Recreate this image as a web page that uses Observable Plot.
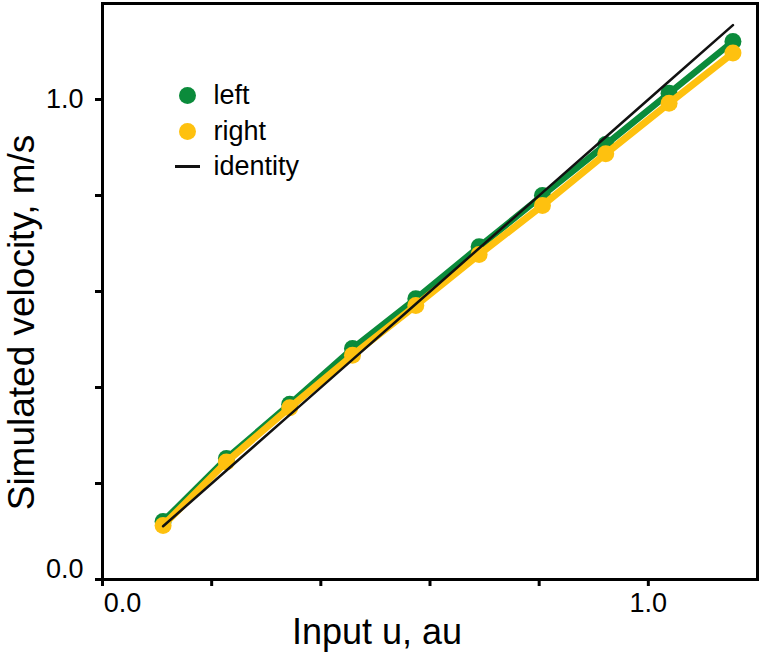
<!DOCTYPE html>
<html>
<head>
<meta charset="utf-8">
<script src="https://cdn.jsdelivr.net/npm/d3@7"></script>
<script src="https://cdn.jsdelivr.net/npm/@observablehq/plot@0.6"></script>
<style>
  html, body { margin: 0; padding: 0; background: #fff; }
</style>
</head>
<body>
<div id="chart"></div>
<script>
// Data
const inputU = [0.111, 0.227, 0.343, 0.458, 0.574, 0.690, 0.806, 0.922, 1.038, 1.155];
const leftVel = [0.121, 0.252, 0.365, 0.481, 0.585, 0.693, 0.800, 0.906, 1.013, 1.121];
const rightVel = [0.1125, 0.245, 0.358, 0.467, 0.571, 0.677, 0.779, 0.887, 0.992, 1.097];
const xTicks = [0, 0.2, 0.4, 0.6, 0.8, 1.0];
const yTicks = [0, 0.2, 0.4, 0.6, 0.8, 1.0];
const legendLabels = ["left", "right", "identity"];
const xTitle = "Input u, au";
const yTitle = "Simulated velocity, m/s";

const GREEN = "#0b8b3b";
const YELLOW = "#fec10f";

const leftData = inputU.map((u, i) => ({u, v: leftVel[i]}));
const rightData = inputU.map((u, i) => ({u, v: rightVel[i]}));
const fmt = d3.format(".1f");

const lineSymbol = {
  draw(ctx, size) {
    const r = Math.sqrt(size / Math.PI);
    ctx.moveTo(-r, 0);
    ctx.lineTo(r, 0);
  }
};

const legendText = (label, dy) => Plot.text([label], {
  frameAnchor: "top-left", text: d => d, dx: 111, dy,
  textAnchor: "start", lineAnchor: "middle", fontSize: 27, fill: "#000"
});

const chart = Plot.plot({
  width: 762,
  height: 659,
  marginLeft: 102,
  marginRight: 5,
  marginTop: 3,
  marginBottom: 80,
  x: {domain: [0, 1.2]},
  y: {domain: [0, 1.2]},
  style: {fontFamily: "'Liberation Sans', Arial, sans-serif", fontSize: "27px", background: "#fff", color: "#000"},
  marks: [
    // axes ticks
    Plot.axisX({ticks: xTicks, tickSize: 7, strokeWidth: 3, tickFormat: () => "", label: null}),
    Plot.axisY({ticks: yTicks, tickSize: 7, strokeWidth: 3, tickFormat: () => "", label: null}),
    // tick labels
    Plot.axisX({ticks: [1.0], tickSize: 0, tickPadding: 13, tickFormat: fmt, label: null, fontSize: 27}),
    Plot.axisX({ticks: [0], tickSize: 0, tickPadding: 13, tickFormat: fmt, label: null, fontSize: 27, dx: 20}),
    Plot.axisY({ticks: [1.0], tickSize: 0, tickPadding: 19, tickFormat: fmt, label: null, fontSize: 27}),
    Plot.axisY({ticks: [0], tickSize: 0, tickPadding: 19, tickFormat: fmt, label: null, fontSize: 27, dy: -10}),
    // series
    Plot.line(leftData, {x: "u", y: "v", stroke: GREEN, strokeWidth: 6.5}),
    Plot.dot(leftData, {x: "u", y: "v", r: 8.5, fill: GREEN}),
    Plot.line(rightData, {x: "u", y: "v", stroke: YELLOW, strokeWidth: 7}),
    Plot.dot(rightData, {x: "u", y: "v", r: 8.5, fill: YELLOW}),
    Plot.line(inputU, {x: d => d, y: d => d, stroke: "#111", strokeWidth: 2.5}),
    // frame
    Plot.frame({stroke: "#000", strokeWidth: 3}),
    // axis titles
    Plot.text([xTitle], {frameAnchor: "bottom", text: d => d, dx: -53, dy: 53, textAnchor: "middle", lineAnchor: "middle", fontSize: 36, fill: "#000"}),
    Plot.text([yTitle], {frameAnchor: "left", text: d => d, rotate: -90, dx: -80, dy: 31, textAnchor: "middle", lineAnchor: "middle", fontSize: 37, fill: "#000"}),
    // legend
    Plot.dot([legendLabels[0]], {frameAnchor: "top-left", dx: 85, dy: 92, r: 8.5, fill: GREEN}),
    Plot.dot([legendLabels[1]], {frameAnchor: "top-left", dx: 85, dy: 128, r: 8.5, fill: YELLOW}),
    Plot.dot([legendLabels[2]], {frameAnchor: "top-left", dx: 85, dy: 163, r: 12.5, symbol: lineSymbol, stroke: "#111", strokeWidth: 3, fill: "none"}),
    legendText(legendLabels[0], 92),
    legendText(legendLabels[1], 128),
    legendText(legendLabels[2], 163)
  ]
});
document.getElementById("chart").appendChild(chart);
</script>
</body>
</html>
